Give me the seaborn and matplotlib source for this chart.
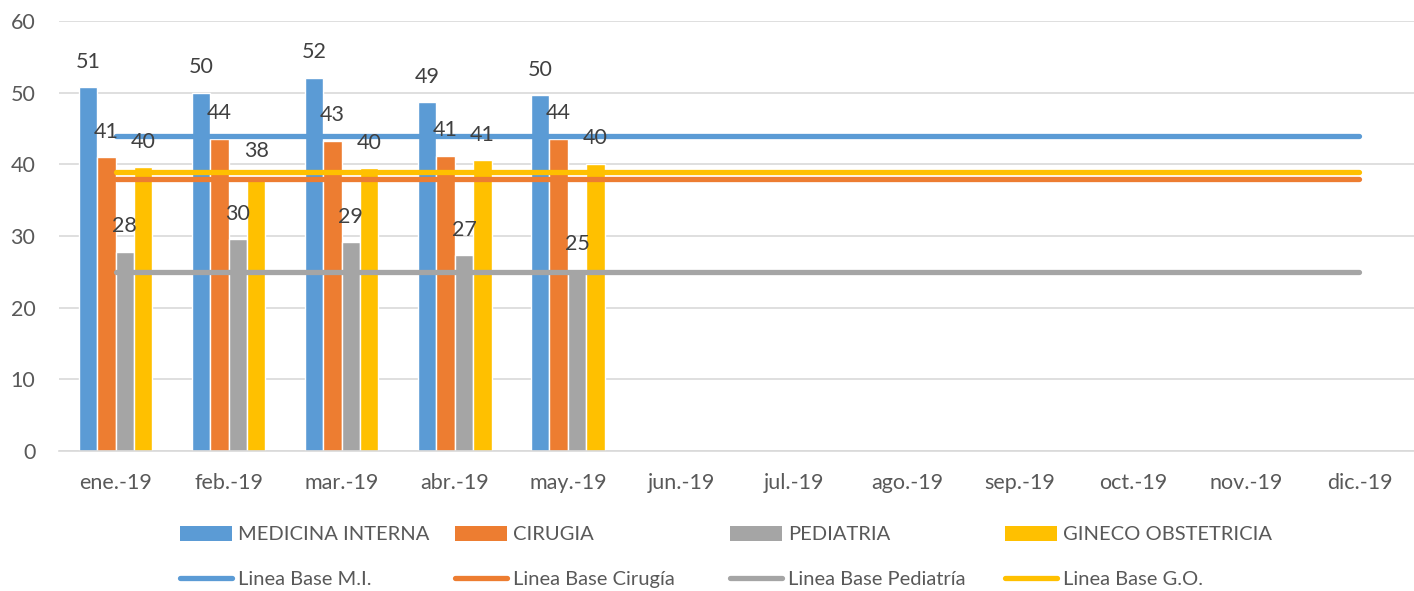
import pandas as pd
import numpy as np
import matplotlib
matplotlib.use("Agg")
import matplotlib.pyplot as plt
import seaborn as sns
from matplotlib.patches import Patch
from matplotlib.lines import Line2D

# === Data ===
months = ["ene.-19", "feb.-19", "mar.-19", "abr.-19", "may.-19", "jun.-19",
          "jul.-19", "ago.-19", "sep.-19", "oct.-19", "nov.-19", "dic.-19"]
months_with_data = months[:5]

medicina_interna = [50.8, 50.0, 52.1, 48.7, 49.7]
cirugia = [41.0, 43.6, 43.3, 41.2, 43.6]
pediatria = [27.8, 29.6, 29.1, 27.3, 25.3]
gineco = [39.6, 38.3, 39.5, 40.6, 40.1]

services = ["MEDICINA INTERNA", "CIRUGIA", "PEDIATRIA", "GINECO OBSTETRICIA"]
baseline_names = ["Linea Base M.I.", "Linea Base Cirugía", "Linea Base Pediatría", "Linea Base G.O."]
baseline_values = [44, 38, 25, 39]

colors = ["#5B9BD5", "#ED7D31", "#A5A5A5", "#FFC000"]
TEXT = "#595959"
GRID = "#D9D9D9"

# === Long tables ===
bars_df = pd.DataFrame({
    "Mes": months_with_data * 4,
    "Servicio": np.repeat(services, 5),
    "Valor": medicina_interna + cirugia + pediatria + gineco,
})
lines_df = pd.DataFrame({
    "Mes": months * 4,
    "Linea": np.repeat(baseline_names, 12),
    "Valor": np.repeat(baseline_values, 12),
})

sns.set_style("white")
plt.rcParams["font.family"] = ["Lato", "DejaVu Sans"]

fig = plt.figure(figsize=(14.14, 5.91), dpi=100)
ax = fig.add_axes([59 / 1414, 140 / 591, 1357 / 1414, 430 / 591])

sns.barplot(data=bars_df, x="Mes", y="Valor", hue="Servicio", order=months,
            hue_order=services, palette=colors, width=0.65, gap=0,
            saturation=1, errorbar=None, legend=False, ax=ax, zorder=2)

for cont in ax.containers:
    ax.bar_label(cont, fmt="{:.0f}", padding=11, fontsize=15.5, color="#404040", zorder=5)

month_pos = {m: i for i, m in enumerate(months)}
lines_df["pos"] = lines_df["Mes"].map(month_pos)
sns.lineplot(data=lines_df, x="pos", y="Valor", hue="Linea", hue_order=baseline_names,
             palette=colors, linewidth=3.8, legend=False, ax=ax, zorder=3,
             solid_capstyle="round")

# === Axes styling ===
ax.set_xlim(-0.5, len(months) - 0.5)
ax.set_ylim(0, 60)
ax.set_yticks(range(0, 61, 10))
ax.set_xticks(range(len(months)))
ax.set_xticklabels(months)
ax.set_xticks(np.arange(-0.5, len(months), 1), minor=True)
ax.set_xlabel("")
ax.set_ylabel("")
ax.yaxis.grid(True, color=GRID, linewidth=1.2, zorder=0)
ax.set_axisbelow(True)
for s in ["top", "right", "left"]:
    ax.spines[s].set_visible(False)
ax.spines["bottom"].set_color(GRID)
ax.spines["bottom"].set_linewidth(1.2)
ax.tick_params(axis="y", length=0, pad=17, labelsize=15.5, labelcolor=TEXT)
ax.tick_params(axis="x", which="major", length=0, pad=16, labelsize=15.5, labelcolor=TEXT)
ax.tick_params(axis="x", which="minor", length=5, width=1.2, color=GRID, direction="out")

# === Legend: four columns, two rows ===
col_x = [180, 455, 730, 1005]
for i in range(4):
    handles = [Patch(facecolor=colors[i], edgecolor="none"),
               Line2D([], [], color=colors[i], linewidth=3.8, solid_capstyle="round")]
    fig.legend(handles, [services[i], baseline_names[i]], loc="center left",
               bbox_to_anchor=(col_x[i] / 1414, (591 - 557) / 591),
               frameon=False, fontsize=14.5, labelcolor=TEXT, borderpad=0,
               borderaxespad=0, handlelength=2.6, handleheight=0.8,
               handletextpad=0.3, labelspacing=1.35)

fig.savefig("out.png", dpi=100)
